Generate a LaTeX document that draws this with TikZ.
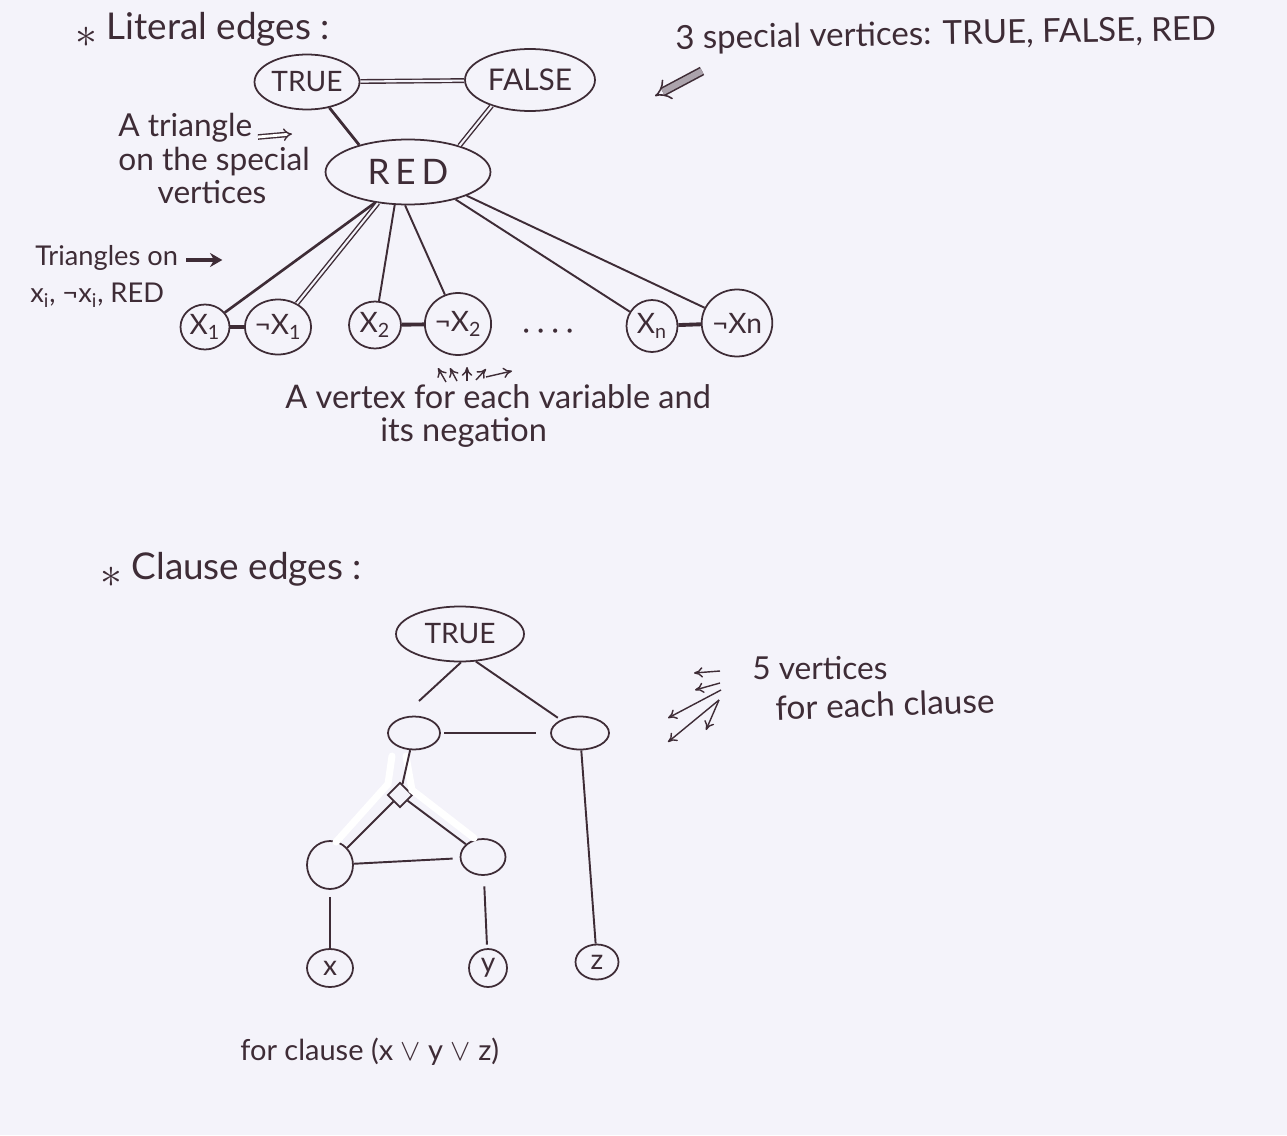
\documentclass[tikz,border=0pt]{standalone}
\usepackage{fontspec}
\setmainfont{Lato}
\usetikzlibrary{shapes.geometric,arrows.meta}
\definecolor{paper}{RGB}{244,243,250}
\definecolor{ink}{RGB}{62,44,54}
\newcommand{\bigstar}{\raisebox{-0.4ex}{\fontsize{40}{40}\selectfont$\ast$}}
\begin{document}
\begin{tikzpicture}[x=0.02cm,y=-0.02cm,
  vert/.style={ellipse, draw=ink, line width=1pt, inner sep=0pt, text=ink,
    font=\fontsize{16}{18}\selectfont},
  lbl/.style={anchor=west, text=ink, inner sep=0pt, font=\fontsize{18}{21}\selectfont},
  edge/.style={draw=ink, line width=1.1pt},
  heavy/.style={draw=ink, line width=2.2pt},
  dbl/.style={draw=ink, line width=0.8pt, double=paper, double distance=1.2pt},
  note/.style={draw=ink, line width=0.8pt, -{To[length=5pt,width=6pt]}},
  fluid/.style={draw=white, line width=4pt, line cap=round}]

% paper
\fill[paper] (0,0) rectangle (1287,1135);
\useasboundingbox (0,0) rectangle (1287,1135);

% ---------------- literal edges ----------------
\node[lbl, font=\fontsize{21}{24}\selectfont] (hdA) at (75,30) {\bigstar\ Literal edges :};
\node[lbl, rotate=1, font=\fontsize{18.8}{21}\selectfont] (spec) at (675,40) {3 special vertices: TRUE, FALSE, RED};

\node[vert, minimum width=2.1cm, minimum height=1.1cm] (t) at (307,82) {TRUE};
\node[vert, minimum width=2.6cm, minimum height=1.24cm, font=\fontsize{17}{19}\selectfont] (f) at (530,80) {FALSE};
\node[vert, minimum width=3.3cm, minimum height=1.3cm, font=\fontsize{20}{22}\selectfont] (r) at (408,172) {R\,E\,D};

\draw[dbl] (t) -- (f);
\draw[edge, line width=1.6pt] (t.311) -- (r.151);
\draw[dbl] (f.214) -- (r.27);

% hatched arrow towards the special vertices
\draw[draw=ink, line width=0.9pt, double=ink!40!paper, double distance=3.5pt, -{Implies}] (702,71) -- (655,96);

% note on the triangle
\node[lbl] (tri1) at (118,128) {A triangle};
\node[lbl] (tri2) at (118,162) {on the special};
\node[lbl, anchor=center] (tri3) at (212,192) {vertices};
\draw[draw=ink, line width=0.8pt, double, double distance=1.6pt, -{Implies}] (258,137) -- (292,134);

% variable vertices
\node[vert, minimum width=0.98cm, minimum height=0.9cm] (x1) at (205,327) {X\textsubscript{1}};
\node[vert, minimum width=1.14cm, minimum height=1.1cm] (n1) at (278,327) {¬X\textsubscript{1}};
\node[vert, minimum width=1.04cm, minimum height=0.94cm] (x2) at (375,325) {X\textsubscript{2}};
\node[vert, minimum width=1.2cm, minimum height=1.24cm] (n2) at (458,324) {¬X\textsubscript{2}};
\node[vert, minimum width=1.02cm, minimum height=1.04cm] (xn) at (652,326) {X\textsubscript{n}};
\node[vert, minimum width=1.34cm, minimum height=1.34cm] (nn) at (737,323) {¬Xn};
\node[text=ink, font=\fontsize{16}{18}\selectfont] (dots) at (548,334) {· · · ·};

\draw[heavy] (x1) -- (n1);
\draw[heavy] (x2) -- (n2);
\draw[heavy] (xn) -- (nn);

\draw[edge, line width=1.5pt] (r.223) -- (x1);
\draw[dbl] (r.226) -- (n1);
\draw[edge] (r.248) -- (x2);
\draw[edge] (r.265) -- (n2);
\draw[edge] (r.330) -- (xn);
\draw[edge] (r.338) -- (nn);

% note on the triangles
\node[lbl, font=\fontsize{15.5}{18}\selectfont] (tr1) at (35,258) {Triangles on};
\node[lbl, font=\fontsize{15.5}{18}\selectfont] (tr2) at (30,295) {x\textsubscript{i}, ¬x\textsubscript{i}, RED};
\draw[draw=ink, line width=2pt, -{Stealth[length=7pt,width=8pt]}] (tr1.east) ++(8,2) -- ++(36,0);

% note on the literal vertices
\draw[note] (446,382) -- (438,368);
\draw[note] (457,381) -- (450,368);
\draw[note] (467,381) -- (467,367);
\draw[note] (476,380) -- (486,369);
\draw[note] (486,377) -- (512,371);
\node[lbl, font=\fontsize{18.5}{21}\selectfont] (var1) at (285,397) {A vertex for each variable and};
\node[lbl, font=\fontsize{18.5}{21}\selectfont] (var2) at (380,433) {its negation};

% ---------------- clause edges ----------------
\node[lbl, font=\fontsize{21}{24}\selectfont] (hdB) at (100,570) {\bigstar\ Clause edges :};

\node[vert, minimum width=2.56cm, minimum height=1.1cm] (ct) at (460,634) {TRUE};
\node[vert, minimum width=1.04cm, minimum height=0.66cm] (a) at (414,733) {};
\node[vert, minimum width=1.16cm, minimum height=0.66cm] (b) at (580,733) {};
\node[diamond, draw=ink, line width=1pt, minimum size=0.5cm, inner sep=0pt] (d) at (400,795) {};
\node[vert, minimum width=0.92cm, minimum height=0.96cm] (c) at (330,865) {};
\node[vert, minimum width=0.9cm, minimum height=0.72cm] (e) at (483,857) {};
\node[vert, minimum width=0.92cm, minimum height=0.76cm] (vx) at (330,968) {x};
\node[vert, minimum width=0.76cm, minimum height=0.76cm] (vy) at (488,968) {y};
\node[vert, minimum width=0.86cm, minimum height=0.7cm] (vz) at (597,962) {z};
\coordinate (aTop) at (419,701);

% correction-fluid streaks round the small triangle
\draw[fluid] (392,756) -- (388,784) -- (336,842);
\draw[fluid] (406,756) -- (412,790) -- (474,838);

\draw[edge] (ct.272) -- (aTop);
\draw[edge, shorten >=2pt] (ct.300) -- (b);
\draw[edge, shorten <=2pt, shorten >=8pt] (a) -- (b);
\draw[edge] (a) -- (d);
\draw[edge] (d) -- (c);
\draw[edge] (d) -- (e);
\draw[edge, shorten >=4pt] (c) -- (e);
\draw[edge, shorten <=4pt] (c) -- (vx);
\draw[edge, shorten <=6pt, shorten >=2pt] (e) -- (vy);
\draw[edge] (b) -- (vz);

% note on the clause gadget
\draw[note] (720,671) -- (694,673);
\draw[note] (720,683) -- (695,690);
\draw[note] (721,690) -- (668,718);
\draw[note] (719,700) -- (668,742);
\draw[note] (719,700) -- (706,730);
\node[lbl] (cl1) at (752,668) {5 vertices};
\node[lbl, font=\fontsize{19}{22}\selectfont, rotate=2] (cl2) at (775,708) {for each clause};

\node[lbl, font=\fontsize{16.5}{19}\selectfont] (cap) at (240,1052) {for clause (x $\vee$ y $\vee$ z)};

\end{tikzpicture}
\end{document}
